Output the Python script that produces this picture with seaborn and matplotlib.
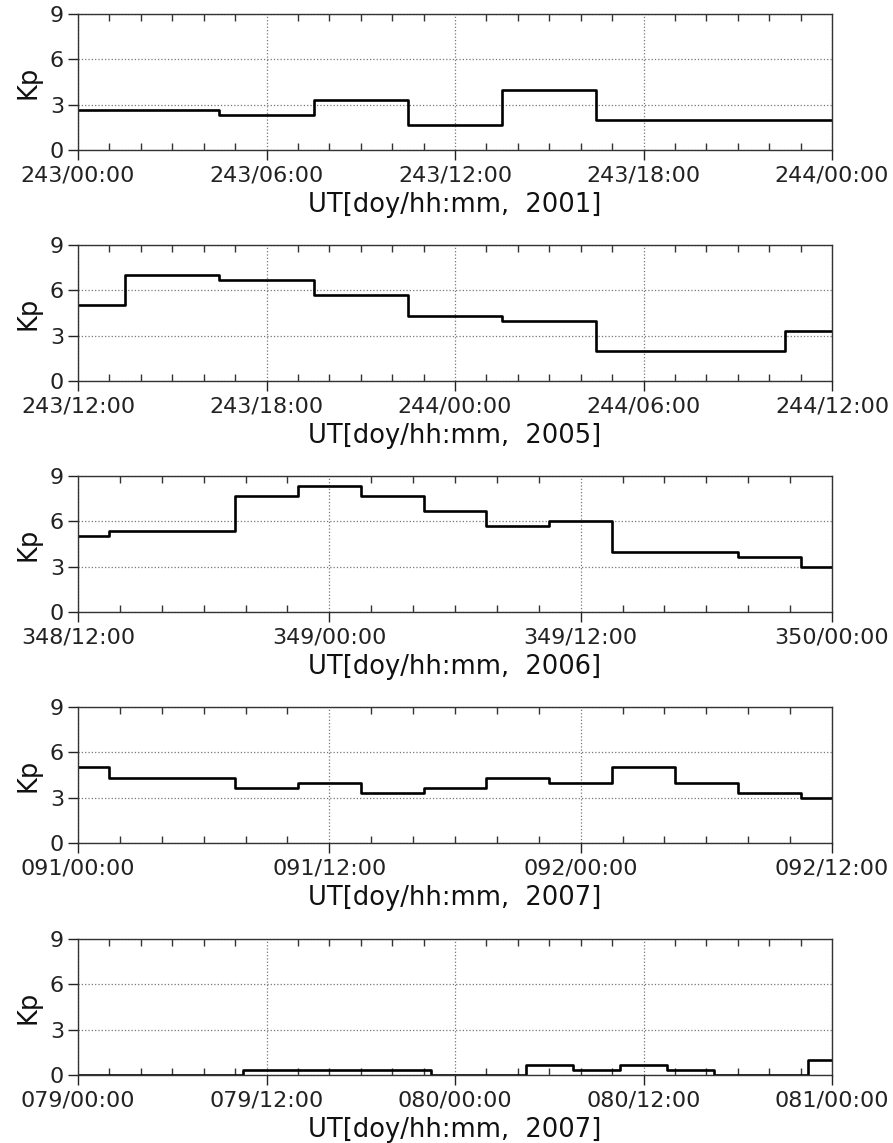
import numpy as np
import pandas as pd
import matplotlib
matplotlib.use("Agg")
import matplotlib.pyplot as plt
import seaborn as sns
from matplotlib.ticker import MultipleLocator

# ---- data (Kp, 3-hourly values) ----
kp_2001 = [2.67, 2.67, 2.33, 3.33, 1.67, 4.0, 2.0, 2.0, 2.0]
kp_2005 = [5.0, 7.0, 6.67, 5.67, 4.33, 4.0, 2.0, 2.0, 3.33]
kp_2006 = [5.0, 5.33, 5.33, 7.67, 8.33, 7.67, 6.67, 5.67, 6.0, 4.0, 4.0, 3.67, 3.0]
kp_2007a = [5.0, 4.33, 4.33, 3.67, 4.0, 3.33, 3.67, 4.33, 4.0, 5.0, 4.0, 3.33, 3.0]
kp_2007b = [0.0, 0.0, 0.0, 0.0, 0.33, 0.33, 0.33, 0.33, 0.0, 0.0, 0.67, 0.33, 0.67,
            0.33, 0.0, 0.0, 1.0]

ticks_2001 = ["243/00:00", "243/06:00", "243/12:00", "243/18:00", "244/00:00"]
ticks_2005 = ["243/12:00", "243/18:00", "244/00:00", "244/06:00", "244/12:00"]
ticks_2006 = ["348/12:00", "349/00:00", "349/12:00", "350/00:00"]
ticks_2007a = ["091/00:00", "091/12:00", "092/00:00", "092/12:00"]
ticks_2007b = ["079/00:00", "079/12:00", "080/00:00", "080/12:00", "081/00:00"]

xlabels = ["UT[doy/hh:mm,  2001]", "UT[doy/hh:mm,  2005]", "UT[doy/hh:mm,  2006]",
           "UT[doy/hh:mm,  2007]", "UT[doy/hh:mm,  2007]"]

step_hours = 3
panels = [
    (kp_2001, ticks_2001, 6, 1),
    (kp_2005, ticks_2005, 6, 1),
    (kp_2006, ticks_2006, 12, 2),
    (kp_2007a, ticks_2007a, 12, 2),
    (kp_2007b, ticks_2007b, 12, 2),
]

sns.set_style("white")
plt.rcParams["font.family"] = ["DejaVu Sans"]

W, H = 893, 1143
fig = plt.figure(figsize=(W / 100, H / 100), dpi=100)

left_px, right_px = 78, 832
tops_px = [14, 245, 476, 707, 939]
height_px = 136

for i, (kp, ticklabels, major, minor) in enumerate(panels):
    top = tops_px[i]
    ax = fig.add_axes([left_px / W, 1 - (top + height_px) / H,
                       (right_px - left_px) / W, height_px / H])
    hours = np.arange(len(kp)) * step_hours
    total = hours[-1]
    df = pd.DataFrame({"hour": hours, "Kp": kp})
    sns.lineplot(data=df, x="hour", y="Kp", ax=ax, color="black",
                 linewidth=1.9, drawstyle="steps-mid")
    ax.set_xlim(0, total)
    ax.set_ylim(0, 9)
    ax.set_xticks(np.arange(0, total + 0.1, major))
    ax.set_xticklabels(ticklabels)
    ax.xaxis.set_minor_locator(MultipleLocator(minor))
    ax.set_yticks([0, 3, 6, 9])
    ax.grid(True, which="major", linestyle=":", color="#777777", linewidth=0.9)
    ax.tick_params(axis="x", which="major", direction="out", length=7, width=1,
                   labelsize=16, pad=4, colors="#222222", top=False, bottom=True)
    ax.tick_params(axis="x", which="minor", direction="in", length=5, width=1,
                   top=True, bottom=True, colors="#333333")
    ax.tick_params(axis="y", which="major", direction="out", length=7, width=1,
                   labelsize=16, pad=3, left=True, right=False, colors="#222222")
    for sp in ax.spines.values():
        sp.set_color("#333333")
        sp.set_linewidth(1.0)
    ax.set_xlabel(xlabels[i], fontsize=18.5, labelpad=5, color="#111111")
    ax.set_ylabel("Kp", fontsize=18.5, labelpad=6, color="#111111")

fig.savefig("out.png", dpi=100)
